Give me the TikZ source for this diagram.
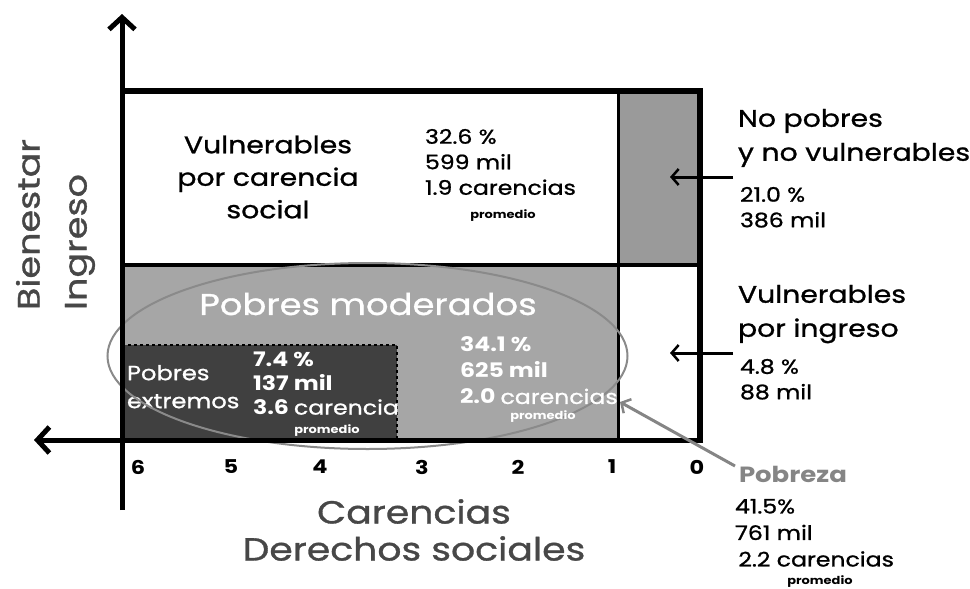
\documentclass[tikz,border=0pt]{standalone}
\usepackage{fontspec}
\setmainfont{Poppins}[FakeStretch=1.18,UprightFeatures={FakeBold=1}]
\usetikzlibrary{arrows.meta}
\definecolor{gtop}{HTML}{9A9A9A}
\definecolor{gbot}{HTML}{A6A6A6}
\definecolor{gdark}{HTML}{404040}
\definecolor{gell}{HTML}{8A8A8A}
\definecolor{gtxt}{HTML}{474747}
\definecolor{gpob}{HTML}{858585}
\newcommand{\fs}[2]{\fontsize{#1}{#2}\selectfont}
\tikzset{
  axisline/.style={line width=5pt,-{Straight Barb[length=12pt,width=26pt,line width=5pt]}},
  callout/.style={line width=3pt,-{Straight Barb[length=7pt,width=16pt,line width=2.5pt]}},
  lbl/.style={inner sep=0pt,outer sep=0pt},
  title/.style={lbl,font=\fs{24}{34},align=left,anchor=north west},
  stat/.style={lbl,font=\fs{20}{25.5},align=left,anchor=north west},
  bstat/.style={stat,font=\fs{20}{26}\bfseries},
  prom/.style={lbl,font=\fs{11}{12}\bfseries},
  tick/.style={lbl,font=\fs{19}{20}\bfseries},
}
\begin{document}
\begin{tikzpicture}[x=1pt,y=-1pt]
\useasboundingbox (0,0) rectangle (970,589);
% fills
\fill[gbot] (122,265) rectangle (618,440);
\fill[gtop] (618,91) rectangle (700,265);
\fill[gdark] (122,345) rectangle (397,440);
\draw[line width=1.2pt,dashed] (122,345) -- (397,345) -- (397,440);
% dividers and box
\draw[line width=3.5pt] (122,265) -- (700,265);
\draw[line width=3pt] (618,91) -- (618,440);
\draw[line width=6pt] (122,91) -- (700,91) -- (700,440);
% pobres extremos texts (clipped to dark box)
\begin{scope}
\clip (122,345) rectangle (397,440);
\node[lbl,text=white,font=\fs{20.5}{28},align=left,anchor=north west] (pe) at (127,365) {Pobres\\extremos};
\node[bstat,font=\fs{20}{24}\bfseries,text=white] (ped) at (253,352) {7.4 \%\\137 mil\\3.6 {\mdseries carencias}};
\node[prom,text=white] (pep) at (327,431) {promedio};
\end{scope}
% ellipse
\draw[gell,line width=2pt] (367.5,356) ellipse [x radius=260,y radius=93];
% axes
\coordinate (yb) at (122,510);
\coordinate (yt) at (122,14);
\coordinate (xr) at (703,440);
\coordinate (xl) at (34,440);
\draw[axisline] (yb) -- (yt);
\draw[axisline] (xr) -- (xl);
% ticks
\node[tick] (t6) at (138,467) {6};
\node[tick] (t5) at (231,467) {5};
\node[tick] (t4) at (320,467) {4};
\node[tick] (t3) at (422,467) {3};
\node[tick] (t2) at (518,467) {2};
\node[tick] (t1) at (612,467) {1};
\node[tick] (t0) at (697,467) {0};
% axis titles
\node[lbl,text=gtxt,font=\fs{32}{37},align=center] (xt) at (414,530) {Carencias\\Derechos sociales};
\node[lbl,text=gtxt,font=\fs{31}{47},align=left,rotate=90,anchor=north west] (yt1) at (16,310) {Bienestar\\Ingreso};
% top-left cell
\node[lbl,font=\fs{24}{32.5},align=center] (vcs) at (268,177) {Vulnerables\\por carencia\\social};
\node[stat] (vcsd) at (425,129) {32.6 \%\\599 mil\\1.9 carencias};
\node[prom] (vcsp) at (503,216) {promedio};
% pobres moderados
\node[lbl,text=white,font=\fs{30}{32}] (pm) at (368,304) {Pobres moderados};
\node[bstat,text=white] (pmd) at (460,337) {34.1 \%\\625 mil\\2.0 {\mdseries carencias}};
\node[prom,text=white] (pmp) at (543,417) {promedio};
% right labels
\node[title] (np) at (738,109) {No pobres\\y no vulnerables};
\node[stat] (npd) at (740,187) {21.0 \%\\386 mil};
\node[title] (vi) at (738,285) {Vulnerables\\por ingreso};
\node[stat] (vid) at (740,359) {4.8 \%\\88 mil};
\node[lbl,text=gpob,font=\fs{22}{24}\bfseries,anchor=west] (pob) at (739,474) {Pobreza};
\node[stat,font=\fs{20}{26.5}] (pobd) at (735,499) {41.5\%\\761 mil\\\,2.2 carencias};
\node[prom] (pobp) at (820,582) {promedio};
% callouts
\coordinate (a1s) at (733,177);
\coordinate (a1e) at (670,177);
\coordinate (a2s) at (733,353);
\coordinate (a2e) at (670,353);
\coordinate (a3s) at (735,466);
\coordinate (a3e) at (620,402);
\draw[callout] (a1s) -- (a1e);
\draw[callout] (a2s) -- (a2e);
\draw[callout,gpob] (a3s) -- (a3e);
\end{tikzpicture}
\end{document}
